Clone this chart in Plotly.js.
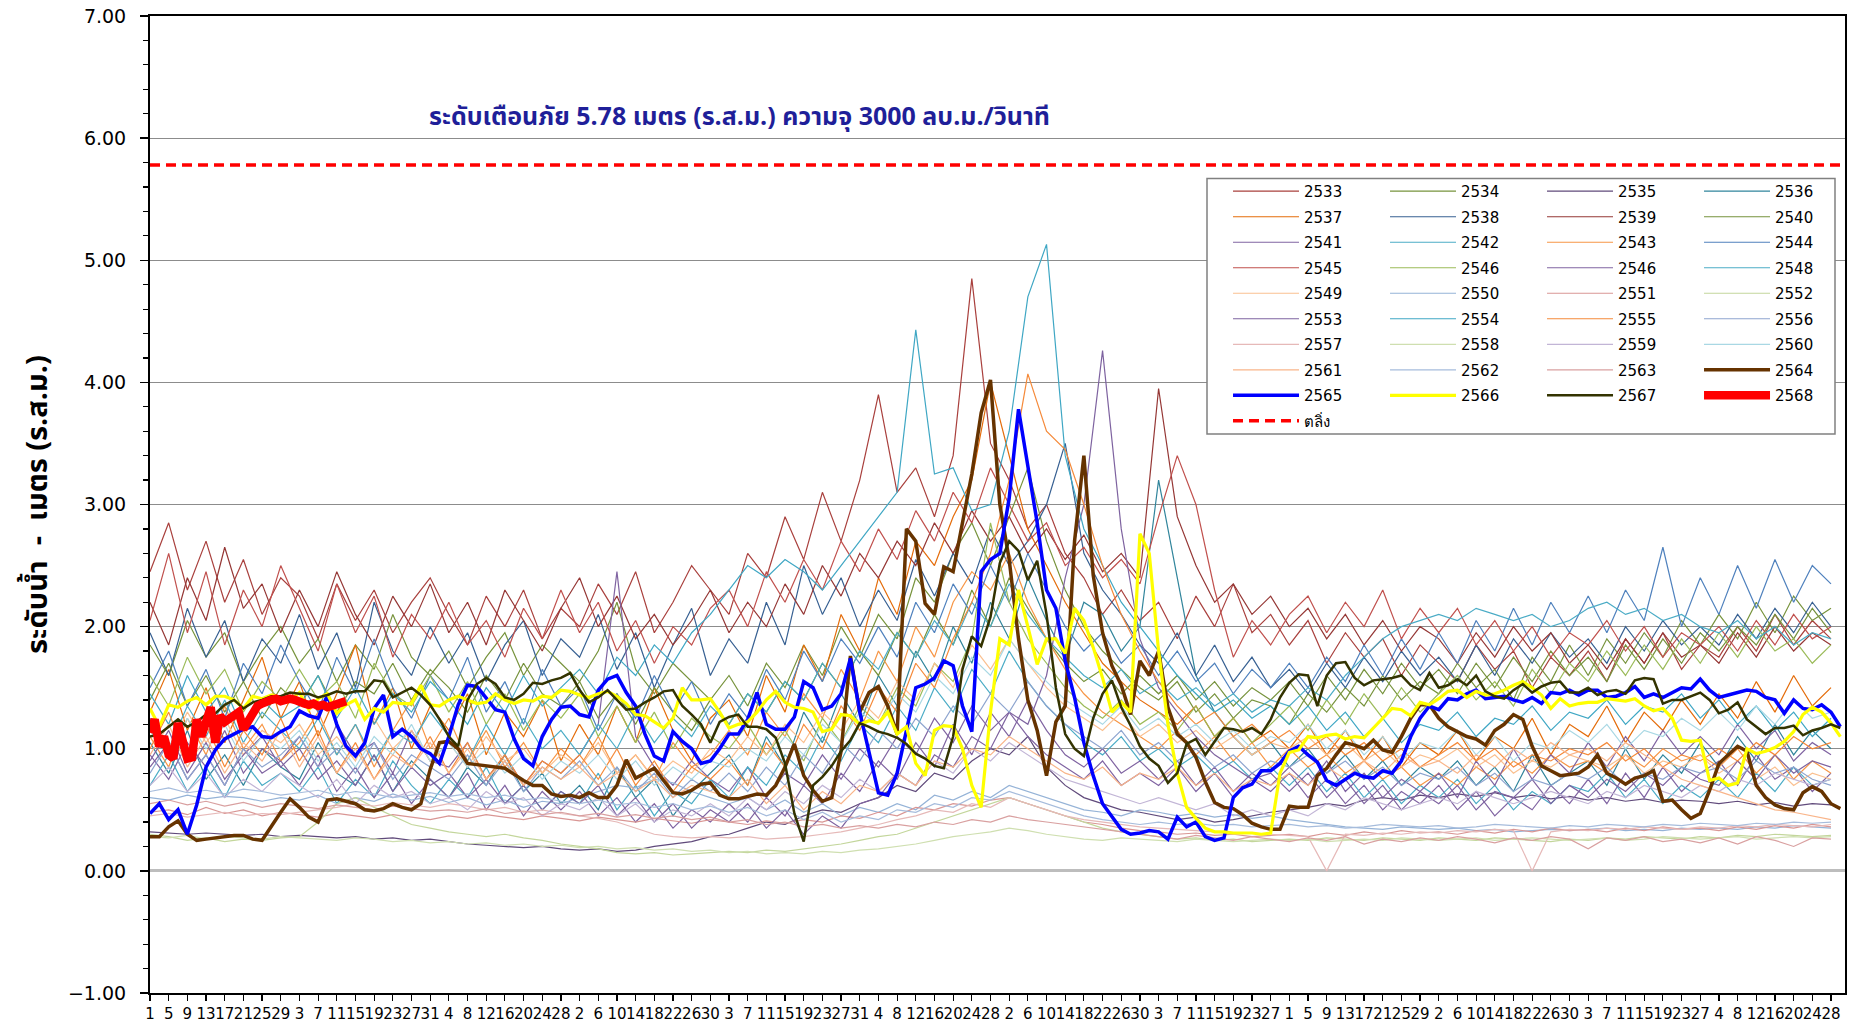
<!DOCTYPE html>
<html><head><meta charset="utf-8">
<script src="https://cdn.plot.ly/plotly-3.0.1.min.js"></script>
<style>html,body{margin:0;padding:0;background:#fff}#chart{width:1854px;height:1026px}</style>
</head><body><div id="chart"></div>
<script>
// ---- x tick labels (day of month, every 4th day, Apr..Mar) ----
const xTickLabels = ['1','5','9','13','17','21','25','29','3','7','11','15','19','23','27','31','4','8','12','16','20','24','28','2','6','10','14','18','22','26','30','3','7','11','15','19','23','27','31','4','8','12','16','20','24','28','2','6','10','14','18','22','26','30','3','7','11','15','19','23','27','1','5','9','13','17','21','25','29','2','6','10','14','18','22','26','30','3','7','11','15','19','23','27','4','8','12','16','20','24','28'];

const bankLevel = 5.78;
const bankName = 'ตลิ่ง';
const warnText = 'ระดับเตือนภัย 5.78 เมตร (ร.ส.ม.) ความจุ 3000 ลบ.ม./วินาที';
const yTitle = 'ระดับน้ำ  -  เมตร (ร.ส.ม.)';

// ---- background years: one value every 4 days (day 1,5,...,361) ----
const y2533 = [2.45,2.85,2.30,2.70,2.20,2.55,2.10,2.40, 2.25,1.90,2.35,2.05,2.30,1.95,2.20,2.40, 2.10,1.85,2.25,2.00,2.30,1.90,2.15, 2.00,2.35,2.10,2.45,1.95,2.20,2.50,2.30, 2.10,2.60,2.40,2.90,2.55,3.10,2.70,3.20, 3.90,3.10,3.30,2.90,3.40,4.85,3.50, 3.20,2.80,3.00,2.60,2.40,2.10,2.30,2.05, 2.20,1.90,2.25,2.00,2.35,1.95,2.10, 1.85,2.05,1.70,1.95,1.75,1.90,1.60,1.85, 1.70,1.55,1.85,1.65,1.80,1.50,1.75,1.60, 1.80,1.55,1.90,1.70,1.95,1.65,1.85, 1.75,2.00,1.80,2.10,1.85,2.05,1.90];
const y2534 = [1.85,1.60,2.05,1.75,1.95,1.55,1.80,2.00, 1.70,1.90,1.55,1.85,1.65,2.10,1.75,1.60, 1.80,1.50,1.75,1.95,1.60,1.85,1.70, 1.55,1.80,2.20,1.65,1.45,1.70,1.55,1.40, 1.60,1.35,1.70,1.50,1.85,1.60,2.00,1.75, 2.10,1.90,2.40,2.20,2.60,2.85,2.50, 2.90,3.30,2.70,2.30,2.00,1.80,1.65,1.50, 1.40,1.55,1.30,1.45,1.25,1.40,1.35, 1.20,1.45,1.30,1.50,1.35,1.60,1.40,1.55, 1.45,1.70,1.50,1.65,1.40,1.75,1.55,1.85, 1.60,1.90,1.70,1.95,1.75,2.05,1.85, 2.10,1.90,2.20,1.95,2.25,2.05,2.15];
const y2535 = [0.32,0.31,0.30,0.31,0.30,0.29,0.30,0.28, 0.29,0.28,0.27,0.28,0.26,0.27,0.25,0.26, 0.24,0.22,0.21,0.20,0.19,0.20,0.18, 0.17,0.18,0.16,0.17,0.20,0.22,0.24,0.28, 0.30,0.35,0.40,0.38,0.45,0.50,0.48,0.55, 0.60,0.70,0.65,0.80,0.75,0.90,1.00, 0.95,1.10,0.85,0.70,0.60,0.55,0.50,0.48, 0.45,0.42,0.44,0.40,0.42,0.45,0.48, 0.50,0.52,0.55,0.53,0.58,0.60,0.58,0.62, 0.60,0.63,0.61,0.64,0.60,0.62,0.59,0.61, 0.58,0.60,0.57,0.59,0.56,0.58,0.57, 0.55,0.57,0.54,0.56,0.53,0.55,0.54];
const y2536 = [1.05,0.80,1.15,0.75,0.95,0.70,1.00,0.85, 0.75,1.05,0.80,0.70,0.95,0.65,0.90,0.75, 0.60,0.85,0.70,0.95,0.65,0.80,0.55, 0.70,0.50,0.85,0.60,0.75,0.45,0.65,0.80, 0.95,0.70,1.10,0.85,1.30,1.05,1.45,1.20, 1.60,1.35,1.80,1.55,2.00,1.70,2.20, 1.90,2.40,2.05,1.75,2.20,2.10,1.80,2.00, 3.20,2.40,1.60,1.30,1.10,0.95,1.05, 0.85,1.00,0.80,0.95,0.75,0.90,0.70,0.85, 0.75,0.90,0.70,0.85,0.65,0.95,0.70,0.80, 0.90,0.70,1.00,0.75,0.95,0.80,1.05, 0.85,1.10,0.90,1.20,0.95,1.15,1.00];
const y2537 = [1.30,1.65,1.15,1.50,1.05,1.40,1.75,1.25, 1.55,1.10,1.45,1.85,1.20,1.50,1.00,1.35, 1.15,1.45,0.95,1.30,1.10,1.40,0.90, 1.20,0.95,1.35,1.05,1.50,1.15,0.90,1.25, 1.40,1.10,1.60,1.30,1.85,1.55,2.10,1.80, 2.40,2.10,2.70,2.50,2.90,3.20,4.00, 3.40,2.80,2.50,2.20,1.95,1.70,1.55,1.40, 1.30,1.20,1.35,1.10,1.25,1.05,1.15, 1.00,1.20,0.95,1.15,0.90,1.10,0.85,1.05, 0.95,1.15,0.90,1.10,1.00,1.25,0.95,1.20, 1.10,1.35,1.05,1.30,1.15,1.40,1.20, 1.45,1.25,1.55,1.30,1.60,1.35,1.50];
const y2538 = [1.95,1.60,2.15,1.75,2.05,1.55,1.90,1.70, 2.10,1.65,1.95,1.50,2.20,1.80,1.60,2.00, 1.70,1.95,1.55,1.85,2.05,1.60,1.90, 1.75,2.10,1.65,1.95,1.50,1.85,2.15,1.60, 1.90,1.70,2.20,1.85,2.50,2.10,2.40,2.00, 2.30,2.05,2.55,2.25,2.60,2.35,2.80, 2.50,2.70,3.00,3.50,2.60,2.30,2.10,1.85, 1.70,1.95,1.60,1.85,1.55,1.75,1.50, 1.65,1.45,1.70,1.50,1.75,1.55,1.80,1.60, 1.75,1.55,1.85,1.60,1.90,1.70,1.95,1.75, 1.90,1.70,2.00,1.80,2.05,1.85,2.00, 1.85,2.10,1.90,2.15,1.95,2.20,2.00];
const y2539 = [2.20,1.85,2.40,2.05,2.65,2.15,2.35,1.95, 2.30,2.00,2.45,2.10,1.85,2.25,2.00,2.35, 1.95,2.20,1.85,2.30,2.05,1.80,2.15, 2.40,2.00,2.25,1.90,2.10,1.85,2.05,2.30, 1.95,2.20,2.00,2.35,2.10,2.50,2.25,2.60, 2.40,2.70,2.50,2.85,2.60,2.95,2.70, 2.90,2.60,2.80,2.55,2.75,2.45,2.60,2.40, 3.95,2.90,2.50,2.20,2.35,2.10,2.25, 2.00,2.15,1.90,2.10,1.85,2.05,1.80,2.00, 1.90,1.70,1.95,1.75,2.00,1.80,1.95,1.70, 1.85,1.65,1.90,1.70,1.95,1.75,1.85, 1.70,1.95,1.75,2.00,1.80,1.95,1.85];
const y2540 = [1.40,1.70,1.35,1.60,1.30,1.55,1.25,1.50, 1.35,1.60,1.30,1.55,1.45,1.70,1.40,1.65, 1.50,1.30,1.60,1.40,1.70,1.45,1.35, 1.55,1.25,1.45,1.20,1.50,1.30,1.15,1.40, 1.20,1.45,1.30,1.55,1.40,1.70,1.50,1.80, 1.60,1.95,1.75,2.10,1.85,2.30,2.00, 2.40,2.15,1.90,1.70,1.55,1.65,1.45,1.60, 1.45,1.60,1.40,1.55,1.35,1.50,1.40, 1.55,1.35,1.60,1.40,1.65,1.45,1.70,1.50, 1.65,1.45,1.70,1.50,1.75,1.55,1.80,1.60, 1.75,1.55,1.85,1.65,1.90,1.70,1.95, 1.80,2.00,1.85,2.10,1.90,2.15,1.95];
const y2541 = [0.95,0.75,1.05,0.85,1.15,0.80,1.00,0.90, 1.10,0.85,1.20,0.95,1.05,0.80,1.15,0.90, 0.85,1.05,0.75,0.95,0.70,0.90,0.80, 0.95,1.20,2.45,1.10,0.85,0.70,0.90,0.75, 0.65,0.85,0.60,0.80,0.70,0.95,0.75,1.00, 0.85,1.10,0.95,1.25,1.05,1.35,1.15, 1.30,1.10,0.95,0.85,0.75,0.90,0.70,0.80, 0.70,0.85,0.65,0.80,0.60,0.75,0.65, 0.80,0.60,0.75,0.55,0.70,0.50,0.65,0.55, 0.70,0.50,0.65,0.45,0.60,0.50,0.70,0.55, 0.75,0.55,0.80,0.60,0.85,0.65,0.80, 0.90,0.70,0.95,0.75,0.85,0.65,0.80];
const y2542 = [0.70,0.95,0.65,0.85,0.60,0.90,0.70,0.80, 0.65,0.85,0.55,0.75,0.60,0.90,0.70,0.55, 0.75,0.60,0.85,0.55,0.70,0.50,0.65, 0.55,0.80,0.50,0.70,0.45,0.65,0.55,0.75, 0.60,0.85,0.70,0.95,0.80,1.10,0.90,1.20, 1.05,1.35,1.15,1.50,1.30,1.65,1.45, 1.80,1.55,1.35,1.20,1.05,0.95,1.10,0.90, 1.00,0.85,0.95,0.80,0.90,0.75,0.85, 0.70,0.85,0.65,0.80,0.60,0.75,0.55,0.70, 0.60,0.75,0.55,0.70,0.50,0.65,0.55,0.70, 0.65,0.80,0.60,0.75,0.55,0.70,0.60, 0.75,0.60,0.80,0.65,0.85,0.70,0.75];
const y2543 = [1.10,0.85,1.25,0.95,1.35,1.00,1.20,0.90, 1.05,1.30,0.95,1.20,0.85,1.15,1.40,1.00, 1.25,0.90,1.15,0.85,1.05,0.80,1.00, 0.85,1.10,0.80,0.95,0.75,1.05,0.85,0.95, 1.15,0.95,1.30,1.10,1.45,1.25,1.65,1.40, 1.80,1.55,2.00,1.75,2.20,2.45,2.30, 2.60,2.20,1.90,1.65,1.45,1.30,1.20,1.10, 1.00,1.15,0.95,1.10,0.90,1.05,0.85, 1.00,0.85,0.95,0.80,0.90,0.75,0.85,0.70, 0.80,0.70,0.85,0.75,0.90,0.80,0.95,0.85, 0.90,0.80,0.95,0.85,1.00,0.90,0.95, 0.85,1.00,0.80,0.95,0.75,0.90,0.80];
const y2544 = [1.50,1.80,1.35,1.65,1.25,1.70,1.45,1.85, 1.55,1.30,1.75,1.45,1.90,1.50,1.25,1.60, 1.40,1.75,1.30,1.55,1.20,1.65,1.35, 1.50,1.15,1.45,1.25,1.60,1.30,1.55,1.20, 1.45,1.25,1.65,1.40,1.80,1.55,1.90,1.70, 2.00,1.75,2.20,1.95,2.35,2.10,2.50, 2.20,2.60,2.30,2.00,1.80,1.95,1.70,1.85, 1.60,1.80,1.55,1.70,1.45,1.65,1.50, 1.70,1.50,1.75,1.55,1.85,1.60,1.90,1.65, 1.95,1.70,2.05,1.80,2.15,1.85,2.20,1.95, 2.25,1.95,2.30,2.05,2.65,2.00,2.40, 2.10,2.50,2.15,2.55,2.20,2.50,2.35];
const y2545 = [2.05,2.60,1.95,2.45,1.85,2.30,2.00,2.50, 2.15,1.80,2.35,1.95,2.25,1.75,2.10,1.90, 2.20,1.85,2.05,1.75,2.15,1.90,2.30, 1.95,2.20,1.80,2.05,1.70,2.00,1.85,2.15, 2.30,2.00,2.45,2.20,2.55,2.30,2.70,2.45, 2.80,2.55,2.95,2.70,3.10,2.85,3.30, 3.00,2.70,2.85,2.50,2.65,2.40,2.55,2.35, 2.90,3.40,3.00,2.30,1.75,2.05,1.85, 2.10,2.25,1.95,2.20,2.00,2.30,1.90,2.15, 1.95,2.15,1.85,2.05,1.80,2.00,1.75,1.95, 1.85,2.05,1.80,2.00,1.75,1.95,1.85, 2.00,1.80,2.05,1.85,2.10,1.90,2.00];
const y2546 = [1.60,1.35,1.75,1.45,1.65,1.30,1.55,1.40, 1.65,1.40,1.55,1.25,1.70,1.45,1.35,1.60, 1.30,1.55,1.20,1.45,1.15,1.40,1.25, 1.45,1.10,1.35,1.05,1.30,1.00,1.25,1.10, 1.00,1.20,0.95,1.15,0.90,1.25,1.05,1.35, 1.20,1.50,1.35,1.70,1.55,1.90,2.85, 2.20,1.90,1.70,1.50,1.35,1.25,1.40,1.20, 1.30,1.15,1.35,1.10,1.25,1.05,1.20, 1.35,1.15,1.40,1.20,1.45,1.25,1.50,1.30, 1.45,1.60,1.40,1.55,1.35,1.65,1.45,1.70, 1.55,1.80,1.60,1.85,1.65,1.90,1.70, 1.95,1.75,2.00,1.80,1.90,1.70,1.85];
const y2547 = [0.85,1.05,0.75,0.95,0.70,1.00,0.80,0.90, 0.70,0.95,0.65,0.85,0.60,0.80,0.55,0.75, 0.60,0.80,0.50,0.70,0.45,0.65,0.50, 0.65,0.45,0.60,0.40,0.55,0.35,0.50,0.40, 0.55,0.40,0.60,0.45,0.70,0.55,0.80,0.65, 0.90,0.75,1.05,0.85,1.20,0.95,1.30, 1.10,1.40,1.15,0.95,0.85,1.00,0.80,0.90, 0.75,0.90,0.70,0.85,0.65,0.80,0.70, 0.85,0.70,0.90,0.65,0.80,0.60,0.75,0.65, 0.80,0.60,0.90,0.70,1.00,0.75,0.95,0.80, 1.05,0.85,1.10,0.90,1.15,0.95,1.10, 0.95,1.20,1.00,1.15,0.90,1.05,0.95];
const y2548 = [1.25,1.00,1.35,1.10,1.40,1.05,1.30,1.15, 1.00,1.25,0.95,1.20,0.90,1.15,1.05,1.30, 1.10,0.90,1.20,0.95,1.25,1.00,1.15, 0.95,1.20,1.00,1.30,1.05,1.25,1.10,1.35, 1.20,1.45,1.30,1.55,1.40,1.70,1.50,1.80, 1.65,1.95,1.75,2.05,1.85,2.20,2.00, 2.35,2.10,1.90,1.75,1.60,1.50,1.65,1.45, 1.55,1.40,1.50,1.35,1.45,1.30,1.40, 1.35,1.50,1.40,1.60,1.75,1.90,2.00,2.05, 2.10,2.05,2.15,2.10,2.05,2.10,2.00,2.05, 2.15,2.20,2.10,2.15,2.05,2.10,2.00, 1.95,2.05,1.90,2.00,1.85,1.95,1.90];
const y2549 = [1.20,1.00,1.30,1.05,1.25,0.95,1.15,1.05, 1.20,0.95,1.10,0.90,1.25,1.00,1.15,0.90, 1.05,0.85,1.10,0.90,1.00,0.80,0.95, 0.85,1.05,0.80,0.95,0.75,0.90,0.80,1.00, 0.90,1.10,0.95,1.20,1.05,1.30,1.15,1.40, 1.25,1.55,1.40,1.70,1.50,1.85,1.65, 1.90,1.70,1.50,1.35,1.25,1.15,1.30,1.10, 1.20,1.05,1.15,1.00,1.10,0.95,1.05, 1.00,1.10,0.95,1.05,0.90,1.00,0.85,0.95, 0.90,1.00,0.85,0.95,0.80,0.90,0.85,0.95, 0.90,0.85,0.95,0.80,0.90,0.85,0.95, 0.80,0.90,0.75,0.85,0.70,0.80,0.75];
const y2550 = [0.60,0.58,0.62,0.59,0.61,0.60,0.57,0.60, 0.58,0.62,0.55,0.60,0.57,0.63,0.58,0.61, 0.56,0.60,0.54,0.58,0.52,0.57,0.55, 0.60,0.65,0.70,0.68,0.75,0.72,0.65,0.60, 0.55,0.60,0.50,0.58,0.48,0.55,0.45,0.52, 0.48,0.55,0.50,0.62,0.58,0.65,0.60, 0.70,0.65,0.60,0.55,0.50,0.48,0.45,0.50, 0.48,0.45,0.47,0.44,0.46,0.43,0.45, 0.42,0.40,0.38,0.36,0.35,0.34,0.36,0.35, 0.34,0.35,0.33,0.34,0.32,0.33,0.34,0.33, 0.34,0.35,0.33,0.34,0.33,0.35,0.34, 0.35,0.34,0.36,0.35,0.37,0.36,0.35];
const y2551 = [0.48,0.50,0.46,0.52,0.47,0.50,0.45,0.48, 0.46,0.44,0.47,0.45,0.43,0.46,0.44,0.42, 0.45,0.43,0.46,0.44,0.42,0.45,0.43, 0.41,0.44,0.42,0.40,0.43,0.41,0.39,0.42, 0.40,0.38,0.41,0.39,0.42,0.40,0.45,0.43, 0.48,0.45,0.52,0.50,0.55,0.53,0.58, 0.60,0.55,0.50,0.45,0.40,0.38,0.35,0.33, 0.32,0.30,0.31,0.29,0.30,0.28,0.29, 0.30,0.28,0.31,0.29,0.32,0.30,0.33,0.31, 0.32,0.30,0.33,0.31,0.34,0.32,0.35,0.33, 0.34,0.32,0.35,0.33,0.36,0.34,0.35, 0.33,0.36,0.34,0.37,0.35,0.38,0.36];
const y2552 = [0.30,0.28,0.25,0.27,0.24,0.26,0.25,0.27, 0.28,0.40,0.55,0.60,0.52,0.45,0.38,0.35, 0.32,0.30,0.28,0.30,0.27,0.25,0.22, 0.20,0.18,0.15,0.14,0.15,0.13,0.14,0.15, 0.16,0.15,0.17,0.16,0.18,0.20,0.22,0.25, 0.28,0.30,0.35,0.40,0.45,0.50,0.55, 0.60,0.55,0.50,0.45,0.40,0.35,0.32,0.30, 0.28,0.26,0.27,0.25,0.26,0.24,0.25, 0.26,0.25,0.27,0.26,0.25,0.27,0.26,0.25, 0.27,0.26,0.25,0.27,0.26,0.25,0.24,0.26, 0.25,0.27,0.26,0.28,0.27,0.26,0.28, 0.27,0.29,0.28,0.30,0.29,0.28,0.29];
const y2553 = [0.90,1.15,0.80,1.05,0.75,0.95,1.10,0.85, 1.00,0.75,0.90,0.70,0.95,0.65,0.85,0.70, 0.80,0.60,0.75,0.55,0.70,0.50,0.65, 0.55,0.70,0.45,0.60,0.40,0.55,0.35,0.50, 0.40,0.55,0.35,0.50,0.30,0.45,0.35,0.55, 0.60,0.80,0.70,0.95,0.85,1.10,1.00, 1.30,1.20,1.60,2.40,3.00,4.26,2.80,1.90, 1.50,1.30,1.10,0.95,0.85,0.75,0.80, 0.65,0.80,0.60,0.75,0.55,0.70,0.50,0.65, 0.55,0.70,0.50,0.65,0.60,0.75,0.55,0.70, 0.60,0.75,0.65,0.80,0.70,0.85,0.75, 0.70,0.90,0.75,0.95,0.80,0.90,0.85];
const y2554 = [1.45,1.20,1.60,1.30,1.50,1.15,1.40,1.25, 1.35,1.60,1.25,1.50,1.20,1.45,1.30,1.55, 1.40,1.20,1.50,1.30,1.60,1.35,1.50, 1.65,1.45,1.75,1.60,1.85,1.70,1.95,2.10, 2.30,2.50,2.40,2.55,2.45,2.30,2.50,2.70, 2.90,3.10,4.43,3.25,3.30,2.95,3.00, 3.60,4.70,5.13,3.40,2.80,2.50,2.20,2.00, 1.80,1.60,1.45,1.30,1.40,1.25,1.35, 1.20,1.35,1.15,1.30,1.10,1.25,1.05,1.20, 1.15,1.30,1.10,1.25,1.20,1.35,1.15,1.30, 1.25,1.40,1.20,1.35,1.30,1.45,1.25, 1.40,1.20,1.35,1.15,1.30,1.10,1.25];
const y2555 = [1.00,1.30,0.90,1.20,0.85,1.15,0.95,1.25, 0.90,1.15,0.80,1.05,0.75,1.00,0.85,1.10, 0.80,1.05,0.75,0.95,0.70,0.90,0.80, 0.95,0.75,1.00,0.70,0.90,0.65,0.85,0.75, 0.90,0.70,1.05,0.85,1.20,1.00,1.35,1.15, 1.50,1.30,1.70,1.50,1.90,2.20,2.60, 3.20,4.07,3.60,3.45,3.00,2.50,2.10,1.80, 1.55,1.35,1.20,1.30,1.10,1.20,1.05, 1.15,1.00,1.10,0.95,1.05,0.90,1.00,0.85, 0.95,1.05,0.90,1.00,0.85,0.95,0.90,1.00, 0.95,1.05,0.90,1.00,0.85,0.95,0.90, 1.00,0.90,1.05,0.95,1.10,1.00,1.05];
const y2556 = [0.80,1.05,0.75,0.95,0.70,1.00,0.85,0.95, 1.10,0.85,1.00,0.80,1.05,0.75,0.95,0.85, 0.75,0.95,0.70,0.90,0.65,0.85,0.75, 0.90,0.70,0.85,0.65,0.80,0.60,0.75,0.65, 0.80,0.65,0.85,0.70,0.95,0.80,1.05,0.90, 1.15,1.00,1.25,1.10,1.35,1.20,1.45, 1.30,1.55,1.35,1.20,1.10,1.00,1.15,0.95, 1.05,0.90,1.00,0.85,0.95,0.80,0.90, 0.85,0.95,0.80,0.90,0.75,0.85,0.70,0.80, 0.75,0.85,0.70,0.80,0.65,0.75,0.70,0.80, 0.75,0.85,0.70,0.80,0.75,0.85,0.80, 0.85,0.75,0.90,0.80,0.85,0.75,0.70];
const y2557 = [0.45,0.47,0.44,0.46,0.48,0.45,0.47,0.46, 0.48,0.50,0.52,0.55,0.53,0.56,0.54,0.52, 0.55,0.53,0.50,0.52,0.48,0.50,0.47, 0.45,0.43,0.40,0.35,0.30,0.28,0.27,0.28, 0.27,0.28,0.26,0.27,0.28,0.30,0.32,0.35, 0.38,0.42,0.45,0.50,0.48,0.55,0.52, 0.60,0.55,0.50,0.45,0.42,0.40,0.38,0.36, 0.35,0.34,0.33,0.32,0.30,0.31,0.30, 0.29,0.28,0.00,0.30,0.29,0.31,0.30,0.32, 0.31,0.33,0.32,0.34,0.33,0.00,0.32,0.34, 0.33,0.35,0.34,0.36,0.35,0.34,0.36, 0.35,0.37,0.36,0.38,0.37,0.36,0.38];
const y2558 = [0.28,0.27,0.29,0.26,0.28,0.27,0.26,0.28, 0.27,0.26,0.25,0.27,0.26,0.24,0.25,0.23, 0.24,0.22,0.23,0.21,0.22,0.20,0.21, 0.19,0.20,0.18,0.19,0.17,0.18,0.16,0.17, 0.15,0.16,0.14,0.15,0.14,0.16,0.15,0.17, 0.18,0.20,0.22,0.25,0.28,0.30,0.32, 0.35,0.33,0.30,0.28,0.26,0.25,0.27,0.26, 0.25,0.24,0.26,0.25,0.24,0.25,0.26, 0.25,0.26,0.24,0.25,0.26,0.25,0.27,0.26, 0.25,0.26,0.27,0.25,0.26,0.27,0.26,0.25, 0.26,0.27,0.25,0.26,0.28,0.27,0.26, 0.27,0.28,0.26,0.27,0.28,0.27,0.28];
const y2559 = [0.70,0.85,0.65,0.80,0.60,0.75,0.65,0.80, 0.70,0.60,0.75,0.55,0.70,0.60,0.65,0.55, 0.60,0.50,0.65,0.55,0.60,0.45,0.55, 0.50,0.60,0.45,0.55,0.40,0.50,0.45,0.55, 0.45,0.60,0.50,0.65,0.55,0.70,0.60,0.75, 0.65,0.80,0.70,0.90,0.80,1.00,0.90, 1.05,0.95,0.85,0.75,0.70,0.65,0.60,0.55, 0.60,0.55,0.50,0.55,0.45,0.50,0.45, 0.50,0.45,0.55,0.50,0.60,0.55,0.50,0.55, 0.60,0.55,0.65,0.60,0.55,0.60,0.65,0.60, 0.55,0.65,0.60,0.70,0.65,0.60,0.70, 0.65,0.75,0.70,0.80,0.75,0.70,0.75];
const y2560 = [1.15,0.95,1.25,1.00,1.20,0.90,1.10,1.00, 1.15,0.90,1.05,0.85,1.10,0.95,1.20,0.90, 1.05,0.85,1.00,0.80,0.95,0.75,0.90, 0.80,0.95,0.75,0.90,0.70,0.85,0.75,0.90, 0.85,1.00,0.90,1.10,0.95,1.20,1.05,1.30, 1.20,1.45,1.30,1.60,1.45,1.75,1.60, 1.90,1.70,1.55,1.40,1.30,1.20,1.35,1.15, 1.25,1.10,1.20,1.05,1.15,1.00,1.10, 1.05,1.20,1.00,1.15,0.95,1.10,0.90,1.05, 1.00,1.15,0.95,1.10,0.90,1.05,1.00,1.15, 1.05,1.20,1.00,1.15,1.10,1.25,1.15, 1.30,1.15,1.35,1.20,1.40,1.25,1.30];
const y2561 = [0.95,1.20,0.85,1.10,0.80,1.05,0.90,1.15, 0.85,1.10,0.80,1.00,0.75,0.95,0.85,1.05, 0.80,1.00,0.75,0.90,0.70,0.85,0.75, 0.85,0.70,0.80,0.65,0.75,0.60,0.70,0.65, 0.60,0.75,0.55,0.70,0.50,0.65,0.55,0.70, 0.65,0.80,0.70,0.90,0.85,1.00,0.95, 1.10,1.00,0.90,0.80,0.75,0.85,0.70,0.80, 0.75,0.85,0.70,0.80,0.65,0.75,0.70, 0.80,0.70,0.85,0.75,0.90,0.80,0.95,0.85, 0.90,0.80,0.95,0.85,1.00,0.90,1.05,0.95, 1.00,0.90,1.05,0.95,0.85,0.75,0.70, 0.65,0.60,0.55,0.50,0.48,0.45,0.42];
const y2562 = [0.65,0.68,0.64,0.66,0.63,0.67,0.65,0.62, 0.64,0.66,0.62,0.65,0.63,0.60,0.62,0.64, 0.61,0.63,0.60,0.62,0.58,0.60,0.57, 0.55,0.58,0.54,0.56,0.52,0.55,0.50,0.53, 0.48,0.52,0.45,0.50,0.42,0.48,0.40,0.45, 0.42,0.50,0.48,0.55,0.52,0.60,0.58, 0.65,0.60,0.55,0.50,0.45,0.42,0.40,0.38, 0.40,0.38,0.39,0.37,0.38,0.36,0.37, 0.38,0.36,0.37,0.35,0.36,0.38,0.37,0.36, 0.37,0.35,0.36,0.38,0.37,0.36,0.35,0.37, 0.36,0.38,0.37,0.36,0.38,0.37,0.39, 0.38,0.37,0.39,0.38,0.40,0.39,0.40];
const y2563 = [0.55,0.58,0.54,0.57,0.53,0.56,0.52,0.55, 0.53,0.51,0.54,0.52,0.50,0.53,0.51,0.49, 0.50,0.48,0.51,0.47,0.49,0.46,0.48, 0.45,0.47,0.44,0.46,0.43,0.45,0.42,0.44, 0.40,0.42,0.38,0.40,0.36,0.38,0.35,0.37, 0.35,0.38,0.36,0.40,0.38,0.42,0.40, 0.45,0.42,0.40,0.38,0.36,0.34,0.32,0.30, 0.28,0.26,0.29,0.27,0.25,0.28,0.26, 0.24,0.27,0.25,0.28,0.22,0.26,0.24,0.27, 0.25,0.28,0.26,0.23,0.27,0.25,0.28,0.26, 0.18,0.27,0.25,0.28,0.24,0.26,0.23, 0.27,0.22,0.28,0.25,0.20,0.27,0.26];

// ---- highlighted years: one value every 2 days (day 1,3,...,363) ----
const y2564 = [0.28,0.28,0.36,0.41,0.30,0.25,0.26,0.27,0.28,0.29, 0.29,0.26,0.25,0.37,0.48,0.59,0.52,0.44,0.40,0.58, 0.59,0.57,0.55,0.50,0.49,0.51,0.55,0.52,0.50,0.55, 0.83,1.05,1.06,1.00,0.88,0.87,0.86,0.85,0.84,0.79, 0.74,0.70,0.70,0.63,0.61,0.62,0.60,0.64,0.60,0.60, 0.70,0.91,0.76,0.80,0.84,0.74,0.64,0.63,0.66,0.71, 0.72,0.62,0.59,0.59,0.61,0.63,0.62,0.70,0.85,1.04, 0.78,0.66,0.57,0.60,0.98,1.76,1.30,1.46,1.51,1.35, 1.12,2.80,2.70,2.19,2.10,2.49,2.45,2.85,3.25,3.75, 4.02,3.00,2.55,1.90,1.40,1.15,0.78,1.22,1.35,2.70, 3.40,2.42,1.95,1.68,1.52,1.28,1.72,1.60,1.80,1.34, 1.12,1.05,0.93,0.73,0.56,0.52,0.51,0.46,0.39,0.36, 0.34,0.34,0.53,0.52,0.52,0.78,0.84,0.95,1.05,1.03, 1.00,1.07,0.99,0.97,1.10,1.25,1.36,1.36,1.25,1.18, 1.14,1.10,1.08,1.03,1.15,1.20,1.28,1.24,1.02,0.86, 0.82,0.78,0.79,0.80,0.85,0.95,0.80,0.76,0.71,0.76, 0.78,0.82,0.57,0.58,0.50,0.43,0.47,0.66,0.88,0.95, 1.02,0.98,0.70,0.60,0.54,0.51,0.50,0.64,0.69,0.65, 0.55,0.51];
const y2565 = [0.47,0.55,0.42,0.50,0.30,0.54,0.85,0.99,1.08,1.12, 1.16,1.18,1.10,1.09,1.14,1.18,1.31,1.27,1.25,1.44, 1.20,1.02,0.94,1.05,1.33,1.44,1.10,1.16,1.10,1.00, 0.96,0.88,1.10,1.36,1.52,1.51,1.42,1.32,1.30,1.08, 0.92,0.86,1.10,1.24,1.34,1.35,1.28,1.26,1.48,1.57, 1.60,1.46,1.35,1.12,0.94,0.90,1.14,1.06,1.00,0.88, 0.90,1.00,1.12,1.12,1.24,1.46,1.20,1.16,1.16,1.26, 1.55,1.50,1.32,1.35,1.45,1.74,1.30,0.96,0.64,0.62, 0.80,1.15,1.50,1.53,1.58,1.72,1.68,1.35,1.14,2.45, 2.55,2.60,3.05,3.78,3.30,2.85,2.30,2.15,1.72,1.42, 1.05,0.78,0.55,0.44,0.34,0.30,0.31,0.33,0.32,0.26, 0.44,0.36,0.40,0.28,0.25,0.27,0.60,0.68,0.71,0.82, 0.82,0.88,0.98,1.02,0.95,0.89,0.74,0.70,0.75,0.80, 0.77,0.76,0.82,0.80,0.90,1.10,1.25,1.35,1.32,1.41, 1.40,1.45,1.48,1.41,1.42,1.43,1.40,1.38,1.42,1.37, 1.46,1.45,1.48,1.44,1.48,1.48,1.42,1.43,1.46,1.51, 1.42,1.45,1.42,1.46,1.50,1.49,1.57,1.48,1.42,1.44, 1.46,1.48,1.47,1.42,1.40,1.29,1.40,1.33,1.32,1.36, 1.30,1.18];
const y2566 = [1.33,1.18,1.36,1.34,1.39,1.42,1.36,1.43,1.43,1.40, 1.33,1.43,1.41,1.44,1.42,1.40,1.46,1.32,1.41,1.45, 1.29,1.36,1.40,1.24,1.33,1.30,1.38,1.37,1.37,1.52, 1.36,1.35,1.40,1.43,1.40,1.37,1.38,1.45,1.40,1.37, 1.40,1.39,1.43,1.42,1.48,1.47,1.44,1.42,1.45,1.47, 1.43,1.37,1.28,1.27,1.22,1.17,1.25,1.50,1.40,1.40, 1.41,1.30,1.17,1.20,1.22,1.30,1.40,1.47,1.38,1.34, 1.33,1.30,1.14,1.16,1.28,1.27,1.20,1.23,1.21,1.30, 1.12,1.18,0.88,0.78,1.15,1.19,1.18,1.00,0.70,0.52, 1.30,1.90,1.85,2.30,2.00,1.69,1.90,1.90,1.78,2.15, 2.05,1.83,1.58,1.30,1.38,1.30,2.76,2.60,1.80,1.20, 0.80,0.52,0.43,0.35,0.32,0.32,0.31,0.31,0.31,0.30, 0.31,0.80,0.97,0.99,1.10,1.09,1.11,1.12,1.08,1.10, 1.09,1.17,1.25,1.33,1.32,1.27,1.38,1.36,1.41,1.47, 1.48,1.42,1.47,1.44,1.45,1.48,1.52,1.55,1.50,1.44, 1.33,1.41,1.35,1.37,1.38,1.38,1.41,1.40,1.39,1.41, 1.35,1.31,1.33,1.25,1.07,1.06,1.07,0.74,0.76,0.70, 0.72,1.00,0.96,0.98,1.01,1.06,1.14,1.28,1.34,1.30, 1.21,1.10];
const y2567 = [1.10,1.12,1.18,1.24,1.18,1.22,1.28,1.29,1.36,1.40, 1.33,1.38,1.40,1.43,1.43,1.46,1.45,1.45,1.42,1.44, 1.47,1.45,1.47,1.47,1.56,1.55,1.42,1.46,1.50,1.44, 1.36,1.24,1.10,1.02,1.40,1.53,1.58,1.53,1.42,1.40, 1.45,1.54,1.53,1.56,1.58,1.62,1.48,1.38,1.42,1.48, 1.40,1.32,1.33,1.38,1.42,1.47,1.48,1.35,1.28,1.20, 1.05,1.22,1.26,1.28,1.18,1.18,1.16,1.09,0.88,0.47, 0.24,0.70,0.77,0.86,0.98,1.07,1.21,1.18,1.14,1.12, 1.09,1.04,0.96,0.92,0.86,0.84,1.10,1.65,1.92,1.84, 2.08,2.52,2.70,2.62,2.38,2.54,2.10,1.50,1.12,1.00, 0.94,1.25,1.45,1.56,1.34,1.19,1.02,0.92,0.86,0.72, 0.80,1.04,1.08,0.95,1.06,1.17,1.16,1.14,1.17,1.12, 1.24,1.42,1.54,1.61,1.60,1.35,1.60,1.70,1.71,1.58, 1.52,1.56,1.57,1.58,1.60,1.52,1.48,1.62,1.50,1.52, 1.57,1.52,1.60,1.47,1.43,1.41,1.48,1.53,1.46,1.51, 1.54,1.55,1.46,1.46,1.50,1.44,1.47,1.48,1.45,1.56, 1.58,1.57,1.37,1.40,1.40,1.43,1.46,1.40,1.29,1.32, 1.38,1.24,1.18,1.12,1.17,1.17,1.19,1.11,1.15,1.17, 1.20,1.17];
// ---- current year: daily values (day 1..43) ----
const y2568 = [1.13,1.24,1.02,1.10,0.95,0.92,1.21,1.05,0.92,0.93, 1.24,1.10,1.24,1.34,1.05,1.27,1.22,1.25,1.28,1.30, 1.16,1.22,1.30,1.35,1.37,1.39,1.40,1.41,1.39,1.40, 1.41,1.40,1.38,1.37,1.36,1.37,1.35,1.36,1.34,1.35, 1.37,1.38,1.39];

const bgNames = ['2533','2534','2535','2536','2537','2538','2539','2540','2541','2542','2543','2544','2545','2546','2546','2548','2549','2550','2551','2552','2553','2554','2555','2556','2557','2558','2559','2560','2561','2562','2563'];
const bgValues = [y2533,y2534,y2535,y2536,y2537,y2538,y2539,y2540,y2541,y2542,y2543,y2544,y2545,y2546,y2547,y2548,y2549,y2550,y2551,y2552,y2553,y2554,y2555,y2556,y2557,y2558,y2559,y2560,y2561,y2562,y2563];
const hiNames = ['2564','2565','2566','2567'];
const hiValues = [y2564,y2565,y2566,y2567];

// ---- styles ----
const bgColors = ['#A9403D','#77933C','#604A7B','#31859C','#E46C0A','#376092','#953735','#76923C','#8064A2','#4BACC6','#F79646','#4F81BD','#C0504D','#9BBB59','#8064A2','#4BACC6','#FAC090','#95B3D7','#D99694','#C3D69B','#7E63A0','#3FA7C4','#F58A3A','#8EA5CF','#E6B9B8','#CFDFB0','#C2B5D6','#A9D8E4','#F9B58A','#A6BCDC','#D9A0A0'];
const hiStyles = [{color:'#663300', width:3.5},{color:'#0000FF', width:3.5},{color:'#FFFF00', width:3.2},{color:'#333300', width:2.5}];
const curStyle = {color:'#FF0000', width:8.5};

const dayBg = []; for (let d = 1; d <= 361; d += 4) dayBg.push(d);
const dayHi = []; for (let d = 1; d <= 363; d += 2) dayHi.push(d);
const dayCur = y2568.map((_, i) => i + 1);
const dayFirst = 1, dayLast = 364;

function legendId(i) { const r = Math.floor(i / 4); return r === 0 ? 'legend' : 'legend' + (r + 1); }

const traces = [];
let idx = 0;
bgNames.forEach((n, i) => {
  traces.push({x: dayBg, y: bgValues[i], type: 'scatter', mode: 'lines', name: n,
    line: {color: bgColors[i], width: 1.2}, legend: legendId(idx++), hoverinfo: 'skip'});
});
hiNames.forEach((n, i) => {
  traces.push({x: dayHi, y: hiValues[i], type: 'scatter', mode: 'lines', name: n,
    line: hiStyles[i], legend: legendId(idx++), hoverinfo: 'skip'});
});
traces.push({x: dayCur, y: y2568, type: 'scatter', mode: 'lines', name: '2568',
  line: curStyle, legend: legendId(idx++), hoverinfo: 'skip'});
traces.push({x: [dayFirst, dayLast], y: [bankLevel, bankLevel], type: 'scatter', mode: 'lines', name: bankName,
  line: {color: '#FF0000', width: 3.5, dash: '10px,6px'}, legend: legendId(idx++), hoverinfo: 'skip'});

const thaiFont = "'Noto Sans Thai', Tahoma, 'Noto Sans', 'DejaVu Sans', sans-serif";
const layout = {
  width: 1854, height: 1026,
  margin: {l: 150, r: 9, t: 16, b: 33, autoexpand: false},
  paper_bgcolor: '#FFFFFF', plot_bgcolor: '#FFFFFF',
  showlegend: true,
  xaxis: {
    type: 'linear', range: [dayFirst, dayLast],
    tickmode: 'array', tickvals: xTickLabels.map((_, i) => 1 + 4 * i), ticktext: xTickLabels,
    tickangle: 0, ticks: 'outside', ticklen: 6, tickwidth: 1.2, tickcolor: '#000',
    tickfont: {family: 'DejaVu Sans', size: 15, color: '#000'},
    showgrid: false, zeroline: false, showline: true, mirror: true, linecolor: '#000', linewidth: 2
  },
  yaxis: {
    range: [-1, 7], tick0: 0, dtick: 1, tickformat: '.2f',
    ticks: 'outside', ticklen: 8, tickwidth: 1.5, tickcolor: '#000', ticklabelstandoff: 10,
    tickfont: {family: 'DejaVu Sans', size: 19, color: '#000'},
    minor: {dtick: 0.2, ticks: 'outside', ticklen: 5, tickwidth: 1.2, tickcolor: '#000', showgrid: false},
    showgrid: true, gridcolor: '#8C8C8C', gridwidth: 1,
    zeroline: true, zerolinecolor: '#BDBDBD', zerolinewidth: 3,
    showline: true, mirror: true, linecolor: '#000', linewidth: 2,
    title: {text: yTitle, font: {family: thaiFont, size: 29, color: '#000', weight: 'bold'}, standoff: 12}
  },
  annotations: [{
    xref: 'paper', yref: 'y', x: 0.3475, y: 6.17, xanchor: 'center', yanchor: 'middle',
    text: '<b>' + warnText + '</b>', showarrow: false,
    font: {family: thaiFont, size: 25, color: '#1F1F99'}
  }],
  shapes: [{
    type: 'rect', xref: 'paper', yref: 'paper', x0: 0.6236, x1: 0.9941, y0: 0.5722, y1: 0.8337,
    fillcolor: '#FFFFFF', line: {color: '#808080', width: 1.5}, layer: 'above'
  }]
};
for (let r = 0; r < 10; r++) {
  const key = r === 0 ? 'legend' : 'legend' + (r + 1);
  layout[key] = {
    orientation: 'h', x: 0.636, xanchor: 'left', y: 0.8204 - r * 0.02611, yanchor: 'middle',
    entrywidth: 76, entrywidthmode: 'pixels', itemwidth: 66,
    bgcolor: 'rgba(0,0,0,0)', borderwidth: 0, traceorder: 'normal',
    font: {family: 'DejaVu Sans', size: 15, color: '#000'}
  };
}
Plotly.newPlot('chart', traces, layout, {displayModeBar: false, staticPlot: true});
</script></body></html>
